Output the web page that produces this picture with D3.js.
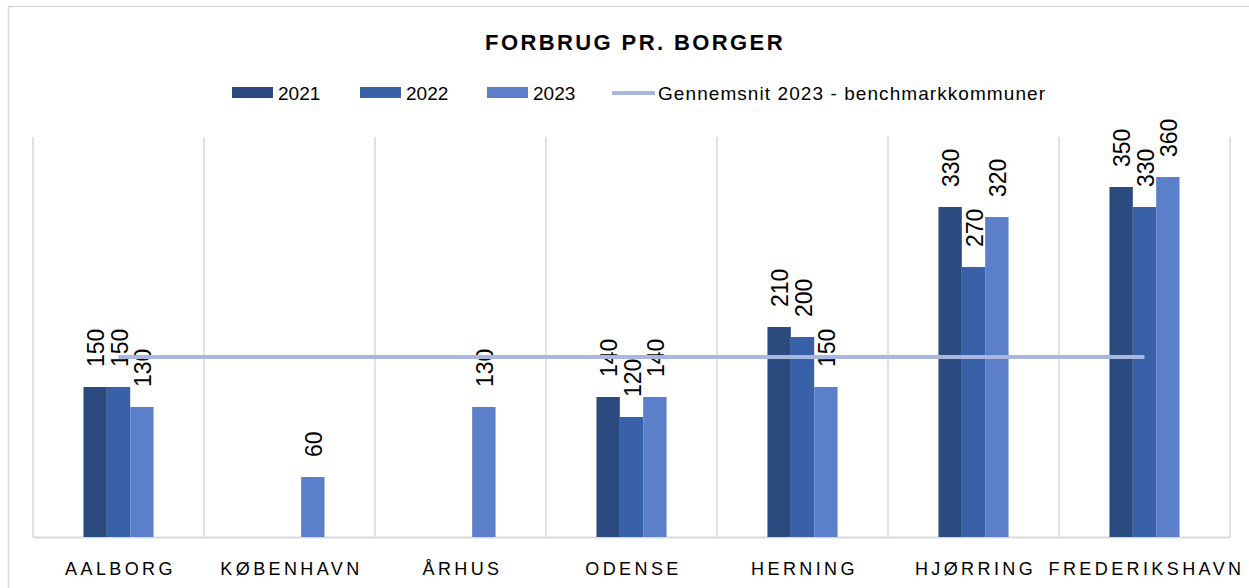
<!DOCTYPE html>
<html>
<head>
<meta charset="utf-8">
<script src="https://cdn.jsdelivr.net/npm/d3@7"></script>
<style>
  body { margin: 0; background: #fff; }
  text { font-family: "Liberation Sans", Arial, sans-serif; fill: #000; }
</style>
</head>
<body>
<div id="chart"></div>
<script>
// categories and values
var kommuner = ["AALBORG", "KØBENHAVN", "ÅRHUS", "ODENSE", "HERNING", "HJØRRING", "FREDERIKSHAVN"];
var years = ["2021", "2022", "2023"];
var v2021 = [150, null, null, 140, 210, 330, 350];
var v2022 = [150, null, null, 120, 200, 270, 330];
var v2023 = [130, 60, 130, 140, 150, 320, 360];
var gennemsnit = 180;
var lineLabel = "Gennemsnit 2023 - benchmarkkommuner";

var colors = {"2021": "#2b4a7f", "2022": "#3961a8", "2023": "#5b7fc8"};
var lineColor = "#a9b7de";

var width = 1249, height = 588;
var plot = {left: 33, right: 1230, top: 137, bottom: 537};

var svg = d3.select("#chart").append("svg")
    .attr("width", width)
    .attr("height", height);

// outer chart border (right/bottom edges fall outside the picture)
svg.append("rect")
    .attr("x", 8.5).attr("y", 6.5)
    .attr("width", width + 10).attr("height", height + 10)
    .attr("fill", "none")
    .attr("stroke", "#d9d9d9")
    .attr("stroke-width", 1.5);

var x0 = d3.scaleBand().domain(kommuner).range([plot.left, plot.right]);
var x1 = d3.scaleBand().domain(years).range([0, x0.bandwidth()]).paddingOuter(2.16);
var y = d3.scaleLinear().domain([0, 400]).range([plot.bottom, plot.top]);

// vertical gridlines at category boundaries
var bounds = kommuner.map(function(k) { return x0(k); }).concat([plot.right]);
svg.append("g").selectAll("line")
    .data(bounds)
  .enter().append("line")
    .attr("x1", function(d) { return d; })
    .attr("x2", function(d) { return d; })
    .attr("y1", plot.top)
    .attr("y2", plot.bottom)
    .attr("stroke", "#d9d9d9")
    .attr("stroke-width", 1.5);

// bottom axis line
svg.append("line")
    .attr("x1", plot.left).attr("x2", plot.right)
    .attr("y1", plot.bottom + 0.5).attr("y2", plot.bottom + 0.5)
    .attr("stroke", "#d9d9d9")
    .attr("stroke-width", 2);

// flatten to one row per bar
var series = {"2021": v2021, "2022": v2022, "2023": v2023};
var bars = [];
kommuner.forEach(function(k, i) {
  years.forEach(function(yr) {
    if (series[yr][i] != null) bars.push({k: k, year: yr, value: series[yr][i]});
  });
});

svg.append("g").selectAll("rect")
    .data(bars)
  .enter().append("rect")
    .attr("x", function(d) { return x0(d.k) + x1(d.year); })
    .attr("y", function(d) { return y(d.value); })
    .attr("width", x1.bandwidth())
    .attr("height", function(d) { return y(0) - y(d.value); })
    .attr("fill", function(d) { return colors[d.year]; });

// rotated value labels
svg.append("g").selectAll("text")
    .data(bars)
  .enter().append("text")
    .attr("transform", function(d) {
      var cx = x0(d.k) + x1(d.year) + x1.bandwidth() / 2 + 1;
      return "translate(" + cx + "," + (y(d.value) - 20) + ") rotate(-90)";
    })
    .attr("dominant-baseline", "central")
    .style("font-size", "23px")
    .text(function(d) { return d.value; });

// average line from first to last category centre
svg.append("line")
    .attr("x1", x0(kommuner[0]) + x0.bandwidth() / 2)
    .attr("x2", x0(kommuner[kommuner.length - 1]) + x0.bandwidth() / 2)
    .attr("y1", y(gennemsnit))
    .attr("y2", y(gennemsnit))
    .attr("stroke", lineColor)
    .attr("stroke-width", 4);

// category labels
svg.append("g").selectAll("text")
    .data(kommuner)
  .enter().append("text")
    .attr("x", function(d) { return x0(d) + x0.bandwidth() / 2 + 2; })
    .attr("y", 575)
    .attr("text-anchor", "middle")
    .style("font-size", "18px")
    .style("letter-spacing", "3.4px")
    .text(function(d) { return d; });

// title
svg.append("text")
    .attr("x", 635)
    .attr("y", 50)
    .attr("text-anchor", "middle")
    .style("font-size", "22px")
    .style("font-weight", "bold")
    .style("letter-spacing", "2.4px")
    .text("FORBRUG PR. BORGER");

// legend
var legendX = [232, 360, 487];
var legend = svg.append("g");
years.forEach(function(yr, i) {
  legend.append("rect")
      .attr("x", legendX[i]).attr("y", 87)
      .attr("width", 41).attr("height", 11)
      .attr("fill", colors[yr]);
  legend.append("text")
      .attr("x", legendX[i] + 46).attr("y", 100)
      .style("font-size", "19px")
      .text(yr);
});
legend.append("line")
    .attr("x1", 612).attr("x2", 655)
    .attr("y1", 93).attr("y2", 93)
    .attr("stroke", lineColor)
    .attr("stroke-width", 4);
legend.append("text")
    .attr("x", 658).attr("y", 100)
    .style("font-size", "19px")
    .attr("textLength", 387)
    .text(lineLabel);
</script>
</body>
</html>
